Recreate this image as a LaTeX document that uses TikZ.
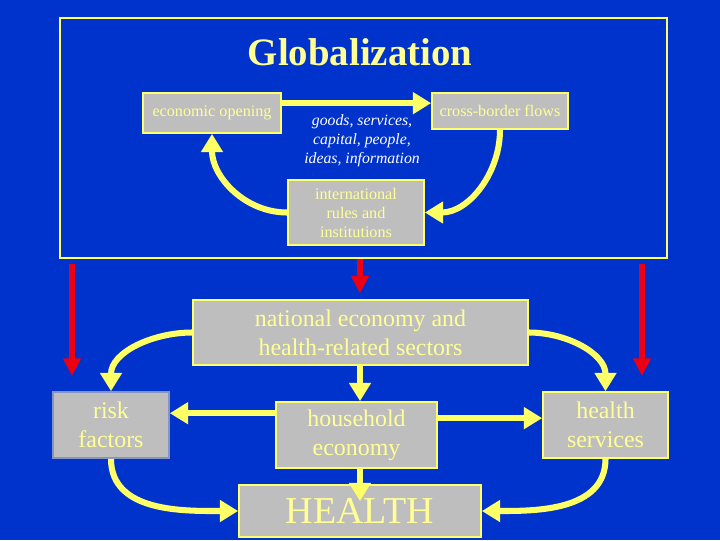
\documentclass[tikz,border=0pt]{standalone}
\usepackage{fontspec}
\setmainfont{Liberation Serif}
\usepackage{tikz}
\usetikzlibrary{arrows.meta, positioning, calc}
\definecolor{bgblue}{RGB}{0, 51, 204}
\definecolor{boxgray}{RGB}{190, 190, 190}
\definecolor{lineyellow}{RGB}{255, 255, 102}
\definecolor{textyellow}{RGB}{255, 255, 150}
\definecolor{riskred}{RGB}{235, 0, 20}

\begin{document}
\begin{tikzpicture}[x=0.025cm, y=-0.025cm,
    box/.style={draw=lineyellow, line width=1.2pt, fill=boxgray, text=textyellow, align=center, inner sep=1pt},
    smalltext/.style={font=\fontsize{11.5}{13.5}\selectfont},
    bigtext/.style={font=\fontsize{17}{20.5}\selectfont},
    flow/.style={draw=lineyellow, line width=4.3pt, -{Triangle[length=13pt, width=15pt]}},
    impact/.style={draw=riskred, line width=4.4pt, -{Triangle[length=12.5pt, width=12pt]}}]
    % Background
    \fill[bgblue] (0,0) rectangle (720,540);
    \useasboundingbox (0,0) rectangle (720,540);

    % Globalization frame
    \node[draw=lineyellow, line width=1.8pt, minimum width=15.175cm, minimum height=6cm] (frame) at (363.5,138) {};
    \node[font=\fontsize{27.6}{30}\selectfont\bfseries, text=textyellow] (title) at (360,52) {Globalization};

    % Top cycle
    \node[box, smalltext, minimum width=3.45cm, minimum height=1cm] (opening) at (212,113) {economic opening};
    \node[box, smalltext, minimum width=3.4cm, minimum height=0.9cm] (crossborder) at (500,111) {cross-border flows};
    \node[box, smalltext, minimum width=3.4cm, minimum height=1.625cm] (rules) at (356,212.5) {international\\rules and\\institutions};
    \node[smalltext, text=white, align=center, font=\fontsize{11.2}{13.5}\selectfont\itshape] (goods) at (362,141) {goods, services,\\capital, people,\\ideas, information};

    \draw[flow] ([yshift=7pt]opening.east) -- ([yshift=7pt]opening.east -| crossborder.west);
    \draw[flow] (crossborder.south) to[out=-90, in=0] (rules.east);
    \draw[flow] (rules.west) to[out=180, in=-90] (opening.south);

    % Impact arrows
    \coordinate (lstart) at (72,264);
    \coordinate (lend) at (72,376);
    \coordinate (rstart) at (642,264);
    \coordinate (rend) at (642,376);

    % National level
    \node[box, bigtext, minimum width=8.375cm, minimum height=1.625cm] (national) at (360.5,332.5) {national economy and\\health-related sectors};
    \node[box, bigtext, draw=boxgray!70!bgblue, minimum width=2.9cm, minimum height=1.65cm] (risk) at (111,425) {risk\\factors};
    \node[box, bigtext, minimum width=4.025cm, minimum height=1.65cm] (household) at (356.5,435) {household\\economy};
    \node[box, bigtext, minimum width=3.125cm, minimum height=1.65cm] (services) at (605.5,425) {health\\services};
    \node[box, font=\fontsize{27}{30}\selectfont, minimum width=6.05cm, minimum height=1.3cm] (health) at (360,511) {HEALTH};

    \draw[impact] (lstart) -- (lend);
    \draw[impact, shorten >=4pt] (frame.south -| health.north) -- (national.north -| health.north);
    \draw[impact] (rstart) -- (rend);

    \draw[flow] (national.west) to[out=180, in=90] (risk.north);
    \draw[flow] (national.east) to[out=0, in=90] (services.north);
    \draw[flow] (national.south -| health.north) -- (household.north -| health.north);
    \draw[flow] ([yshift=15.5pt]household.west) -- ([yshift=15.5pt]household.west -| risk.east);
    \draw[flow] ([yshift=12pt]household.east) -- ([yshift=12pt]household.east -| services.west);
    \draw[flow] (risk.south) to[out=-90, in=180] (health.west);
    \draw[flow] (services.south) to[out=-90, in=0] (health.east);
    \draw[flow, shorten >=-12pt] (household.south -| health.north) -- (health.north);
\end{tikzpicture}
\end{document}
